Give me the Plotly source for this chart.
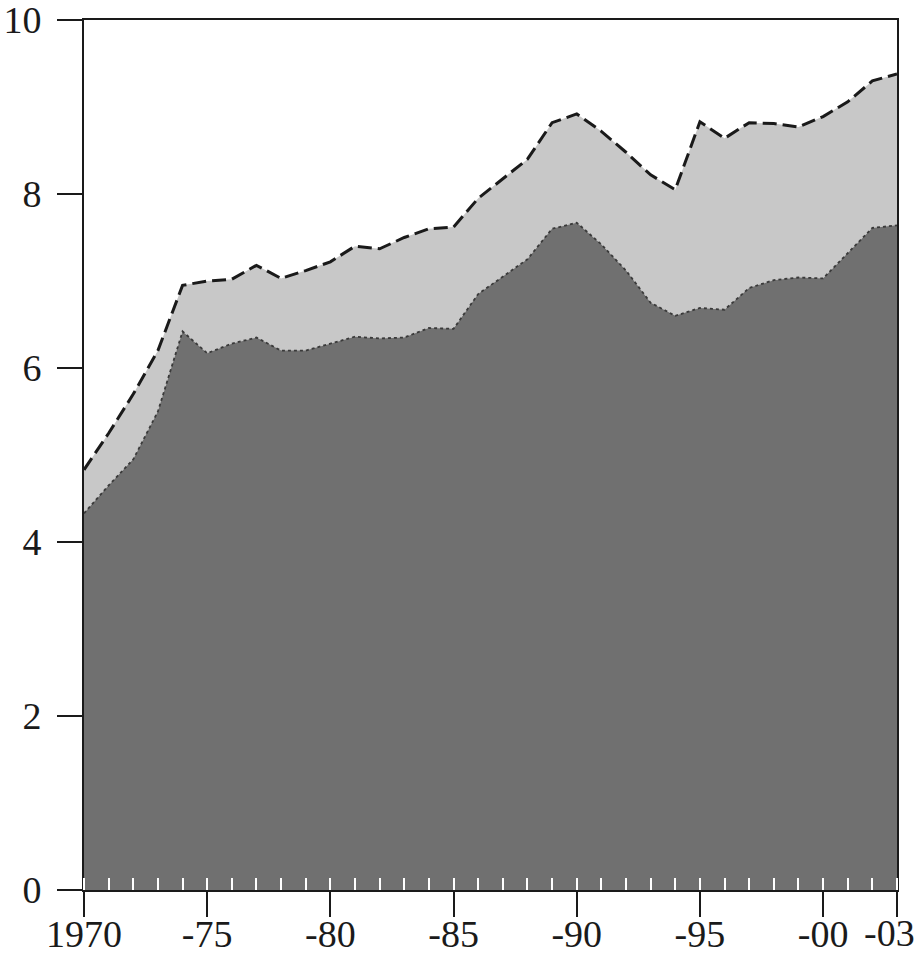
import plotly.graph_objects as go

years = list(range(1970, 2004))
lower = [4.33, 4.65, 4.95, 5.5, 6.42, 6.17, 6.28, 6.35, 6.2, 6.2,
         6.28, 6.36, 6.34, 6.35, 6.46, 6.45, 6.85, 7.05, 7.25, 7.6,
         7.67, 7.42, 7.12, 6.75, 6.6, 6.69, 6.67, 6.92, 7.01, 7.04,
         7.03, 7.32, 7.61, 7.64]
total = [4.83, 5.25, 5.7, 6.2, 6.95, 7.0, 7.02, 7.18, 7.03, 7.12,
         7.22, 7.40, 7.37, 7.5, 7.6, 7.62, 7.95, 8.18, 8.4, 8.82,
         8.92, 8.72, 8.48, 8.22, 8.05, 8.83, 8.64, 8.82, 8.81, 8.77,
         8.89, 9.06, 9.3, 9.38]
x_tickvals = [1970, 1975, 1980, 1985, 1990, 1995, 2000, 2003]
x_ticktext = ["1970", "-75", "-80", "-85", "-90", "-95", "-00", "-03"]
y_tickvals = [0, 2, 4, 6, 8, 10]

fig = go.Figure()
fig.add_trace(go.Scatter(
    x=years, y=total, mode="lines", fill="tozeroy",
    fillcolor="#c8c8c8",
    line=dict(color="#1a1a1a", width=3, dash="14px,6px"),
    hoverinfo="skip"))
fig.add_trace(go.Scatter(
    x=years, y=lower, mode="lines", fill="tozeroy",
    fillcolor="#707070",
    line=dict(color="#3a3a3a", width=1.8, dash="dot"),
    hoverinfo="skip"))

font = dict(family="Liberation Serif, Times New Roman, serif", size=38, color="#1a1a1a")

# last tick label is drawn as an annotation so it can sit flush inside the page edge
shown_ticktext = x_ticktext[:-1] + [""]

fig.update_layout(
    width=917, height=954,
    margin=dict(l=84, r=20, t=20, b=64, autoexpand=False),
    paper_bgcolor="white", plot_bgcolor="white",
    showlegend=False,
    font=font,
)
fig.add_annotation(
    x=x_tickvals[-1], xref="x", y=0, yref="paper",
    text=x_ticktext[-1], showarrow=False,
    xanchor="right", yanchor="top", xshift=19, yshift=-21,
    borderpad=0,
    font=font,
)
fig.update_xaxes(
    range=[1970, 2003],
    tickmode="array", tickvals=x_tickvals, ticktext=shown_ticktext,
    ticks="outside", ticklen=25, tickwidth=2, tickcolor="#1a1a1a",
    showline=True, linecolor="#1a1a1a", linewidth=2, mirror=True,
    showgrid=False, zeroline=False, automargin=False,
    ticklabeloverflow="allow",
    tickfont=font,
    ticklabelstandoff=-16,
    minor=dict(ticks="inside", tickmode="linear", tick0=1970, dtick=1,
               ticklen=12, tickwidth=2, tickcolor="white", showgrid=False),
)
fig.update_yaxes(
    range=[0, 10],
    tickmode="array", tickvals=y_tickvals,
    ticks="outside", ticklen=25, tickwidth=2, tickcolor="#1a1a1a",
    showline=True, linecolor="#1a1a1a", linewidth=2, mirror=True,
    showgrid=False, zeroline=False, automargin=False,
    ticklabeloverflow="allow",
    tickfont=font,
    ticklabelstandoff=8,
)

fig.write_html(
    "out.html",
    config={"displayModeBar": False},
    post_script="document.body.style.margin='0';document.body.style.overflow='hidden';",
)
